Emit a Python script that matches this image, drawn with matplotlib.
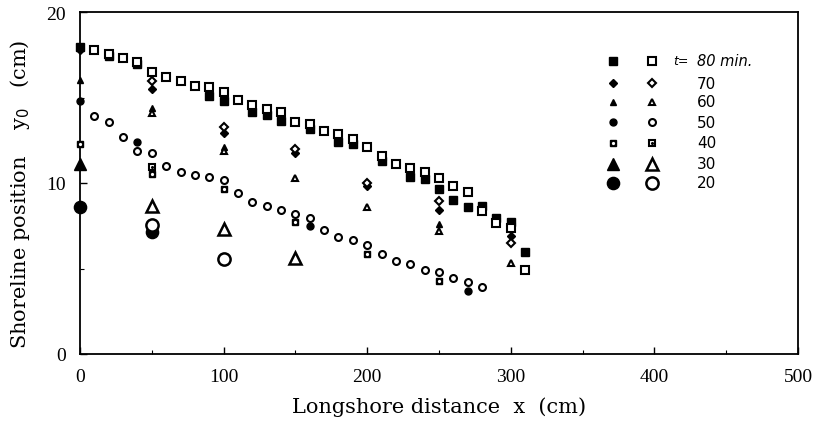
import matplotlib
matplotlib.use("Agg")
import matplotlib.pyplot as plt
from matplotlib.ticker import MultipleLocator

# ---------------- data ----------------
x_t80_open = [10, 20, 30, 40, 50, 60, 70, 80, 90, 100, 110, 120, 130, 140, 150, 160,
              170, 180, 190, 200, 210, 220, 230, 240, 250, 260, 270, 280, 290, 300, 310]
y_t80_open = [17.80, 17.54, 17.31, 17.06, 16.47, 16.18, 15.96, 15.69, 15.60, 15.30, 14.87,
              14.56, 14.33, 14.13, 13.55, 13.45, 13.06, 12.84, 12.57, 12.09, 11.58, 11.11,
              10.85, 10.64, 10.29, 9.84, 9.49, 8.38, 7.66, 7.35, 4.93]
x_t80_fill = [0, 20, 40, 90, 100, 120, 130, 140, 160, 180, 190, 210, 230, 240, 250, 260,
              270, 280, 290, 300, 310]
y_t80_fill = [17.95, 17.43, 16.96, 15.11, 14.81, 14.13, 13.95, 13.64, 13.13, 12.40, 12.28,
              11.26, 10.35, 10.23, 9.65, 9.02, 8.58, 8.63, 7.94, 7.70, 5.95]

x_t70_fill = [0, 50, 100, 150, 200, 250, 300]
y_t70_fill = [17.8, 15.5, 12.9, 11.75, 9.8, 8.42, 6.9]
x_t70_open = [50, 100, 150, 200, 250, 300]
y_t70_open = [15.98, 13.3, 12.0, 10.0, 8.95, 6.5]

x_t60_fill = [0, 50, 100, 250]
y_t60_fill = [16.0, 14.4, 12.1, 7.6]
x_t60_open = [50, 100, 150, 200, 250, 300]
y_t60_open = [14.1, 11.9, 10.3, 8.6, 7.2, 5.3]

x_t50_fill = [0, 40, 160, 270]
y_t50_fill = [14.77, 12.38, 7.50, 3.70]
x_t50_open = [10, 20, 30, 40, 50, 60, 70, 80, 90, 100, 110, 120, 130, 140, 150, 160,
              170, 180, 190, 200, 210, 220, 230, 240, 250, 260, 270, 280]
y_t50_open = [13.90, 13.58, 12.67, 11.89, 11.77, 10.99, 10.66, 10.49, 10.33, 10.15, 9.44,
              8.87, 8.64, 8.44, 8.19, 7.94, 7.27, 6.82, 6.68, 6.37, 5.85, 5.46, 5.26, 4.93,
              4.81, 4.44, 4.19, 3.90]

x_t40_fill = [0, 50, 100, 150, 200, 250]
y_t40_fill = [12.28, 10.5, 9.65, 7.74, 5.85, 4.29]
x_t40_open = [50]
y_t40_open = [10.93]

x_t30_fill = [0]
y_t30_fill = [11.1]
x_t30_open = [50, 100, 150]
y_t30_open = [8.64, 7.31, 5.61]

x_t20_fill = [0, 50]
y_t20_fill = [8.6, 7.12]
x_t20_open = [50, 100]
y_t20_open = [7.54, 5.56]

legend_times = ["80", "70", "60", "50", "40", "30", "20"]

# ---------------- figure ----------------
fig = plt.figure(figsize=(8.13, 4.35), dpi=100)
ax = fig.add_axes([80 / 813, 1 - 355 / 435, (798 - 80) / 813, (355 - 13) / 435])

serif = ["Liberation Serif", "DejaVu Serif"]
wide_serif = ["DejaVu Serif"]

styles = {
    "80": dict(marker="s", ms=5.4, big=False),
    "70": dict(marker="D", ms=3.8, big=False),
    "60": dict(marker="^", ms=4.8, big=False),
    "50": dict(marker="o", ms=5.0, big=False),
    "40": dict(marker="s", ms=4.8, big=False),
    "30": dict(marker="^", ms=8.8, big=True),
    "20": dict(marker="o", ms=8.8, big=True),
}

def plot_open(x, y, key):
    st = styles[key]
    ax.plot(x, y, linestyle="none", marker=st["marker"], ms=st["ms"],
            mfc="white", mec="black", mew=1.5 if not st["big"] else 1.8,
            clip_on=False, zorder=4)
    if key == "40":
        ax.plot(x, y, linestyle="none", marker="o", ms=1.2, mfc="black", mec="black",
                clip_on=False, zorder=5)

def plot_fill(x, y, key):
    st = styles[key]
    ax.plot(x, y, linestyle="none", marker=st["marker"], ms=st["ms"],
            mfc="black", mec="black", mew=1.0, clip_on=False, zorder=3)
    if key == "40":
        ax.plot(x, y, linestyle="none", marker="o", ms=1.3, mfc="white", mec="white",
                clip_on=False, zorder=3.5)

plot_fill(x_t80_fill, y_t80_fill, "80")
plot_open(x_t80_open, y_t80_open, "80")
plot_fill(x_t70_fill, y_t70_fill, "70")
plot_open(x_t70_open, y_t70_open, "70")
plot_fill(x_t60_fill, y_t60_fill, "60")
plot_open(x_t60_open, y_t60_open, "60")
plot_fill(x_t50_fill, y_t50_fill, "50")
plot_open(x_t50_open, y_t50_open, "50")
plot_fill(x_t40_fill, y_t40_fill, "40")
plot_open(x_t40_open, y_t40_open, "40")
plot_fill(x_t30_fill, y_t30_fill, "30")
plot_open(x_t30_open, y_t30_open, "30")
plot_fill(x_t20_fill, y_t20_fill, "20")
plot_open(x_t20_open, y_t20_open, "20")

# ---------------- legend (manual) ----------------
leg_y = [0.858, 0.792, 0.737, 0.678, 0.617, 0.556, 0.500]
for key, yy in zip(legend_times, leg_y):
    st = styles[key]
    ax.plot([0.743], [yy], transform=ax.transAxes, linestyle="none", marker=st["marker"],
            ms=st["ms"], mfc="black", mec="black", clip_on=False)
    if key == "40":
        ax.plot([0.743], [yy], transform=ax.transAxes, linestyle="none", marker="o",
                ms=1.3, mfc="white", mec="white", clip_on=False)
    ax.plot([0.797], [yy], transform=ax.transAxes, linestyle="none", marker=st["marker"],
            ms=st["ms"], mfc="white", mec="black", mew=1.5 if not st["big"] else 1.8,
            clip_on=False)
    if key == "40":
        ax.plot([0.797], [yy], transform=ax.transAxes, linestyle="none", marker="o",
                ms=1.2, mfc="black", mec="black", clip_on=False)
    if key == "80":
        ax.text(0.847, yy, "t=", transform=ax.transAxes, ha="right", va="center",
                fontsize=9, style="italic", family=["DejaVu Sans"])
        ax.text(0.859, yy, "80 min.", transform=ax.transAxes, ha="left", va="center",
                fontsize=10.5, style="italic", family=["DejaVu Sans"])
    else:
        ax.text(0.859, yy, key, transform=ax.transAxes, ha="left", va="center",
                fontsize=11, family=["DejaVu Sans"])

# ---------------- axes ----------------
ax.set_xlim(0, 500)
ax.set_ylim(0, 20)
ax.xaxis.set_major_locator(MultipleLocator(100))
ax.xaxis.set_minor_locator(MultipleLocator(50))
ax.yaxis.set_major_locator(MultipleLocator(10))
ax.yaxis.set_minor_locator(MultipleLocator(5))
ax.tick_params(which="both", direction="in", top=False, right=False)
ax.tick_params(which="major", length=5, width=1.0, labelsize=14, pad=10)
ax.tick_params(which="minor", length=3, width=0.8)
for lab in ax.get_xticklabels() + ax.get_yticklabels():
    lab.set_family(serif)
for sp in ax.spines.values():
    sp.set_linewidth(1.3)

ax.set_xlabel("Longshore distance  x  (cm)", fontsize=15, family=wide_serif, labelpad=8)
ax.set_ylabel("Shoreline position    y$_0$   (cm)", fontsize=15, family=wide_serif)
ax.yaxis.set_label_coords(-0.067, 0.47)

fig.savefig("out.png", dpi=100)
